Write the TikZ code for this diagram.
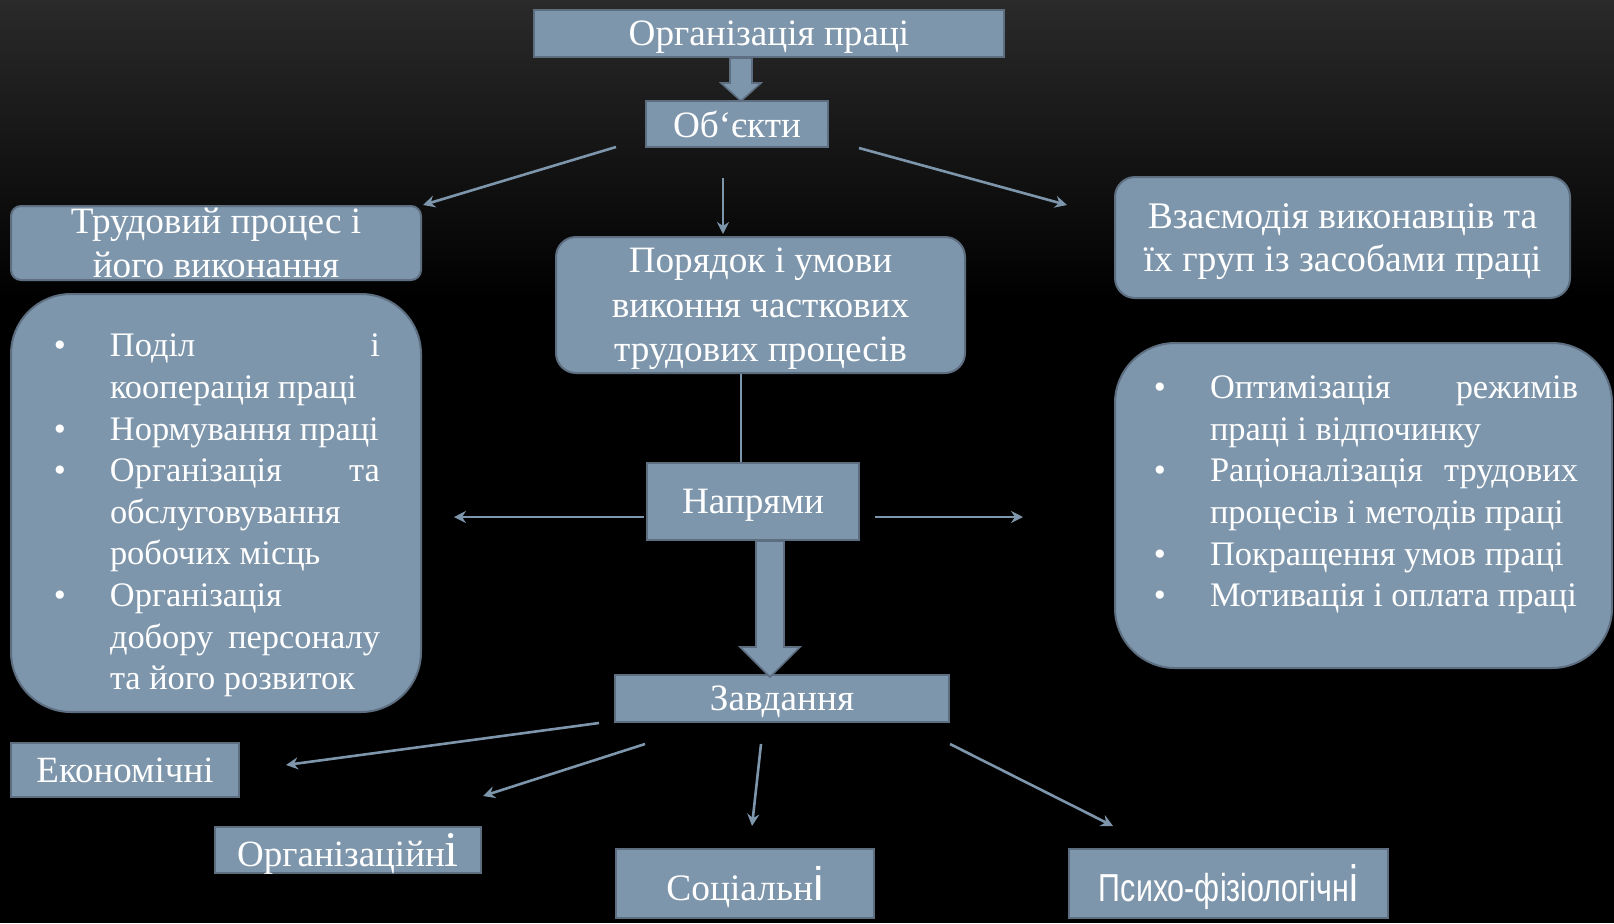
\documentclass[tikz,border=0pt]{standalone}
\usepackage{fontspec}
\setmainfont{Liberation Serif}
\newfontfamily\narrowsans[FakeStretch=0.78]{Liberation Sans}
\newfontfamily\plainsans{Liberation Sans}
\usetikzlibrary{arrows.meta,calc}
\definecolor{boxfill}{RGB}{126,150,172}
\definecolor{boxline}{RGB}{92,110,128}
\definecolor{bgtop}{RGB}{42,42,42}
\newcommand{\bul}{\llap{\textbullet\hspace{22pt}}}
\begin{document}
\begin{tikzpicture}[x=0.5pt,y=-0.5pt,
  box/.style={draw=boxline, line width=1pt, fill=boxfill, text=white, inner sep=0pt,
    align=center, text depth=0pt, font=\fontsize{18.6}{22}\selectfont},
  rbox/.style={box, rounded corners=10pt},
  bigbox/.style={box, rounded corners=30pt},
  listtext/.style={text=white, inner sep=0pt, align=left, font=\fontsize{17.2}{20.8}\selectfont},
  conn/.style={draw=boxfill, line width=1.3pt, -{Stealth[length=6pt,width=6pt,inset=2pt]}},
  plainconn/.style={draw=boxfill, line width=1.3pt},
  blockarr/.style={fill=boxfill, draw=boxline, line width=0.8pt}]
\useasboundingbox (0,0) rectangle (1614,923);
\fill[black] (0,0) rectangle (1614,923);
\shade[top color=bgtop, bottom color=black] (0,0) rectangle (1614,300);

% nodes
\node[box, minimum width=235pt, minimum height=23.5pt] (top) at (769,33.5) {Організація праці};
\node[box, minimum width=91pt, minimum height=23pt] (obj) at (737,124) {Об‘єкти};
\node[rbox, rounded corners=5pt, minimum width=205pt, minimum height=37pt, text depth=-3pt,
  font=\fontsize{18.6}{22}\selectfont] (trud) at (216,243) {Трудовий процес і\\його виконання};
\node[bigbox, minimum width=205pt, minimum height=209pt] (lbox) at (216,503) {};
\node[listtext] (ltext) at (245,515.5) {%
\bul\hbox to 135pt{Поділ\hfill і}\\
кооперація праці\\
\bul Нормування праці\\
\bul\hbox to 135pt{Організація\hfill та}\\
обслуговування\\
робочих місць\\
\bul Організація\\
\hbox to 135pt{добору\hfill персоналу}\\
та його розвиток};
\node[rbox, minimum width=204.5pt, minimum height=68pt, text depth=-1pt,
  font=\fontsize{18.6}{22.2}\selectfont] (mid) at (760.5,305) {Порядок і умови\\виконня часткових\\трудових процесів};
\node[rbox, minimum width=227.5pt, minimum height=60.5pt, text depth=-2pt,
  font=\fontsize{18.8}{21.6}\selectfont] (vz) at (1342.5,237.5) {Взаємодія виконавців та\\їх груп із засобами праці};
\node[bigbox, minimum width=248.5pt, minimum height=162.5pt] (rbx) at (1363.5,505.5) {};
\node[listtext] (rtext) at (1394,495) {%
\bul\hbox to 184pt{Оптимізація\hfill режимів}\\
праці і відпочинку\\
\bul\hbox to 184pt{Раціоналізація\hfill трудових}\\
процесів і методів праці\\
\bul Покращення умов праці\\
\bul Мотивація і оплата праці};
\node[box, minimum width=106pt, minimum height=38.5pt, text depth=-3pt] (napr) at (753,501.5) {Напрями};
\node[box, minimum width=167pt, minimum height=23.5pt, text depth=-2pt] (zavd) at (782,698.5) {Завдання};
\node[box, minimum width=114pt, minimum height=27pt, font=\fontsize{18.5}{20}\selectfont] (econ) at (125,770) {Економічні};
\node[box, minimum width=133pt, minimum height=23pt, font=\fontsize{18.5}{20}\selectfont] (org) at (348,850) {Організаційн{\fontsize{25}{25}\selectfont і}};
\node[box, minimum width=129pt, minimum height=34.5pt, font=\fontsize{18.7}{20}\selectfont] (soc) at (745,883.5) {Соціальн{\plainsans\fontsize{23.5}{24}\selectfont і}};
\node[box, minimum width=159.5pt, minimum height=34.5pt, font=\narrowsans\fontsize{19.5}{20}\selectfont] (psy) at (1228.5,883.5) {Психо-фізіологічн{\fontsize{25.5}{25}\selectfont і}};

% block arrows
\draw[blockarr] ([shift={(-39,0)}]top.south) -- ++(22,0) -- ++(0,25) -- ++(9,0) -- ++(-20,18) -- ++(-20,-18) -- ++(9,0) -- cycle;
\draw[blockarr] ([shift={(3,0)}]napr.south) -- ++(28,0) -- ++(0,106) -- ++(16,0) -- ++(-30,30) -- ++(-30,-30) -- ++(16,0) -- cycle;

% connectors
\draw[conn] ([shift={(-29,-1)}]obj.south west) -- ([shift={(1,0)}]trud.north east);
\draw[conn] ([shift={(30,0)}]obj.south east) -- ([shift={(-47,29)}]vz.north west);
\draw[conn] ([shift={(-14,30)}]obj.south) -- ([shift={(-37.5,-2)}]mid.north);
\draw[plainconn] ([shift={(-19.5,0)}]mid.south) -- ([shift={(-12,0)}]napr.north);
\draw[conn] ([shift={(-2,15.5)}]napr.west) -- ([shift={(32,14)}]lbox.east);
\draw[conn] ([shift={(15,15.5)}]napr.east) -- ([shift={(-91,11.5)}]rbx.west);
\draw[conn] ([shift={(-15,0)}]zavd.south west) -- ([shift={(46,-5)}]econ.east);
\draw[conn] ([shift={(31,21)}]zavd.south west) -- ([shift={(1,-30)}]org.north east);
\draw[conn] ([shift={(-21,21)}]zavd.south) -- ([shift={(7,-22)}]soc.north);
\draw[conn] ([shift={(0,21)}]zavd.south east) -- ([shift={(45,-22)}]psy.north west);
\end{tikzpicture}
\end{document}
